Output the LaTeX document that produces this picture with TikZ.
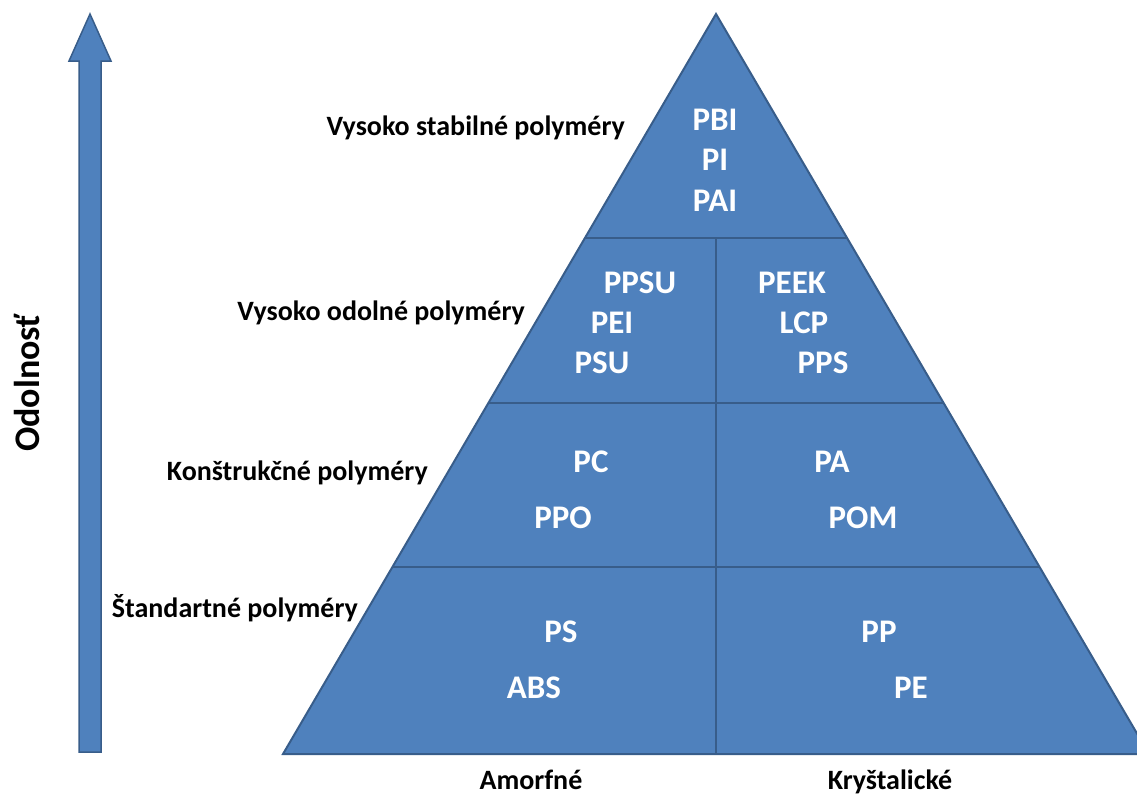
\documentclass[tikz,border=0pt]{standalone}
\usepackage{fontspec}
\setmainfont{Carlito}
\usetikzlibrary{calc}
\definecolor{pfill}{RGB}{79,129,189}
\definecolor{pline}{RGB}{56,93,138}
\begin{document}
\begin{tikzpicture}[x=1pt,y=-1pt,
  wt/.style={text=white,font=\fontsize{33}{33}\selectfont\bfseries,inner sep=0pt,anchor=base},
  bk/.style={text=black,font=\fontsize{28}{28}\selectfont\bfseries,inner sep=0pt,anchor=base east},
  axislabel/.style={text=black,font=\fontsize{28}{28}\selectfont\bfseries,inner sep=0pt,anchor=base},
  divider/.style={draw=pline,line width=2.2pt},
  shapestyle/.style={fill=pfill,draw=pline,line width=2pt,line join=miter}]
\useasboundingbox (0,0) rectangle (1137,796);
\clip (0,0) rectangle (1137,796);
% arrow
\coordinate (tip) at (90,14);
\filldraw[shapestyle,line width=1.5pt] (tip) -- (111,61) -- (101,61) -- (101,752) -- (79,752) -- (79,61) -- (69,61) -- cycle;
\node[rotate=90,text=black,font=\fontsize{36}{36}\selectfont\bfseries,inner sep=0pt] (odol) at (27,383) {Odolnosť};
% pyramid
\coordinate (apex) at (716,14);
\coordinate (bl) at (283,754);
\coordinate (br) at (1149,754);
\filldraw[shapestyle] (apex) -- (bl) -- (br) -- cycle;
\coordinate (l1) at ($(apex)!{224/740}!(bl)$);
\coordinate (r1) at ($(apex)!{224/740}!(br)$);
\coordinate (l2) at ($(apex)!{389/740}!(bl)$);
\coordinate (r2) at ($(apex)!{389/740}!(br)$);
\coordinate (l3) at ($(apex)!{553/740}!(bl)$);
\coordinate (r3) at ($(apex)!{553/740}!(br)$);
\coordinate (vtop) at (716,238);
\coordinate (vbot) at (716,754);
\draw[divider] (l1) -- (r1);
\draw[divider] (l2) -- (r2);
\draw[divider] (l3) -- (r3);
\draw[divider] (vtop) -- (vbot);
% white labels
\node[wt] (pbi) at (715,130) {PBI};
\node[wt] (pi) at (715,170) {PI};
\node[wt] (pai) at (715,211) {PAI};
\node[wt] (ppsu) at (640,293) {PPSU};
\node[wt] (pei) at (612,333) {PEI};
\node[wt] (psu) at (602,373) {PSU};
\node[wt] (peek) at (792,293) {PEEK};
\node[wt] (lcp) at (804,333) {LCP};
\node[wt] (pps) at (823,373) {PPS};
\node[wt] (pc) at (591,472) {PC};
\node[wt] (ppo) at (563,528) {PPO};
\node[wt] (pa) at (832,472) {PA};
\node[wt] (pom) at (863,528) {POM};
\node[wt] (ps) at (561,642) {PS};
\node[wt] (abs) at (534,698) {ABS};
\node[wt] (pp) at (879,642) {PP};
\node[wt] (pe) at (911,698) {PE};
% black labels
\node[bk] (l_stab) at (625,135) {Vysoko stabilné polyméry};
\node[bk] (l_odol) at (525,320) {Vysoko odolné polyméry};
\node[bk] (l_konst) at (428,480) {Konštrukčné polyméry};
\node[bk] (l_std) at (358,617) {Štandartné polyméry};
\node[axislabel] (amorf) at (531,789) {Amorfné};
\node[axislabel] (kryst) at (890,789) {Kryštalické};
\end{tikzpicture}
\end{document}
